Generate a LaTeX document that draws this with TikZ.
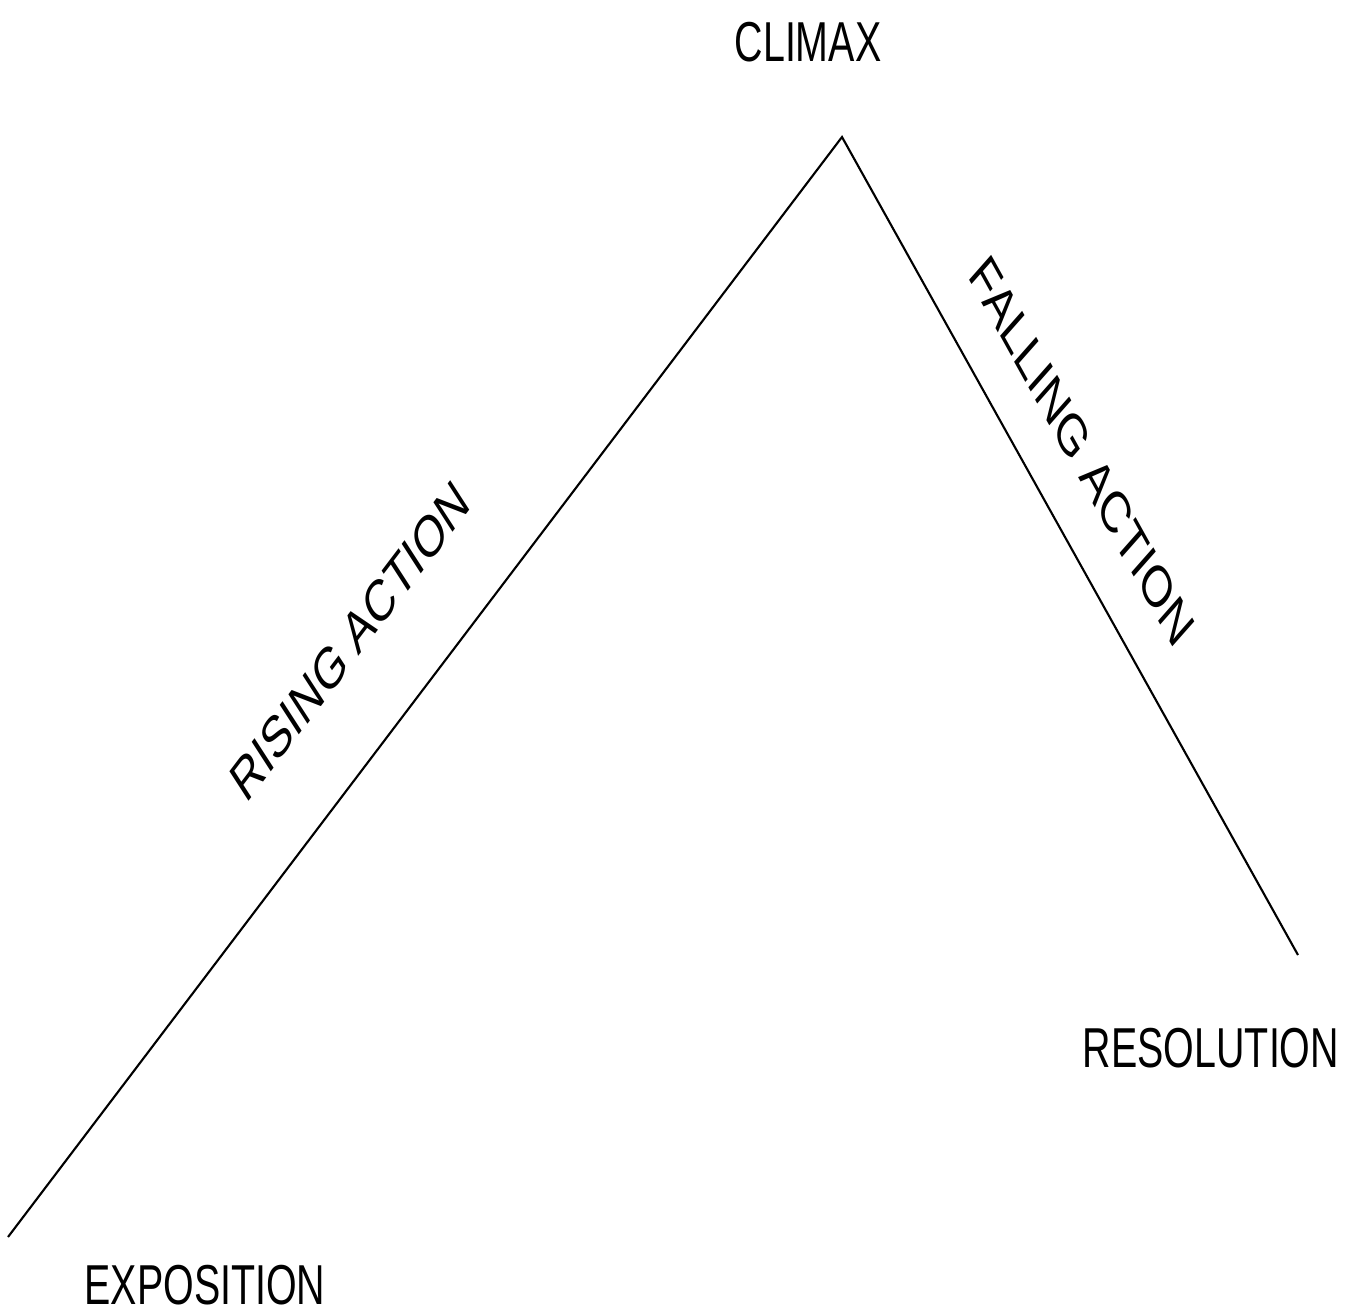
\documentclass[tikz,border=0pt]{standalone}
\usepackage{fontspec}
\setmainfont{Liberation Sans}
\begin{document}
\begin{tikzpicture}[x={(0.01cm,0)},y={(0,-0.01cm)},
  lbl/.style={inner sep=0pt, font=\fontsize{16}{19}\selectfont, transform shape},
  slanted/.style={inner sep=0pt, font=\fontsize{16.6}{19}\selectfont, transform shape},
  edge/.style={line width=0.6pt, black}]
\useasboundingbox (0,0) rectangle (1351,1311);
\coordinate (start) at (8,1237);
\coordinate (peak) at (842,137);
\coordinate (end) at (1298,955);
\draw[edge] (start) -- (peak) -- (end);
\node[lbl, xscale=0.7] (climax) at (808,42) {CLIMAX};
\node[lbl, xscale=0.7] (expo) at (205,1285) {EXPOSITION};
\node[lbl, xscale=0.7] (reso) at (1211,1048) {RESOLUTION};
\node[slanted, xscale=0.7, rotate=42.7] (rising) at (350,641) {RISING ACTION};
\node[slanted, xscale=0.7, rotate=-51.6] (falling) at (1082,451) {FALLING ACTION};
\end{tikzpicture}
\end{document}
